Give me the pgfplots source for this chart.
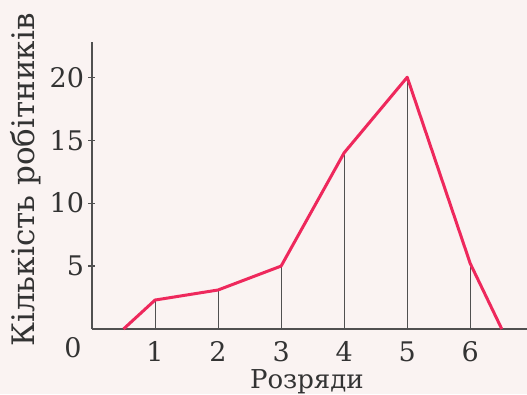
\documentclass[border=0pt]{standalone}
\usepackage{pgfplots}
\pgfplotsset{compat=1.18}
\usetikzlibrary{backgrounds}
\usepackage{fontspec}
\setmainfont{DejaVu Serif}
\definecolor{polyred}{RGB}{238,40,92}
\definecolor{axisgray}{RGB}{80,80,80}
\definecolor{paper}{RGB}{250,243,242}
\newcommand{\ticktxt}{\fontsize{27}{30}\selectfont}

\begin{document}
\begin{tikzpicture}
\begin{axis}[
  scale only axis,
  width=435pt, height=287pt,
  xmin=0, xmax=6.9,
  ymin=0, ymax=22.8,
  axis lines*=left,
  axis line style={axisgray, line width=1.4pt},
  xtick={1,2,3,4,5,6},
  xticklabels={1,2,3,4,5,6},
  ytick={5,10,15,20},
  yticklabels={5,10,15,20},
  x tick style={draw=none},
  y tick style={axisgray, line width=1.2pt},
  tick align=center,
  major tick length=7pt,
  tick label style={font=\ticktxt, text=black!80},
  xticklabel style={anchor=base, yshift=-29pt, inner sep=0pt},
  yticklabel style={xshift=-1pt},
  xlabel={Розряди},
  ylabel={Кількість робітників},
  xlabel style={font=\fontsize{26}{28}\selectfont, text=black!80, inner sep=0pt,
    at={(axis description cs:0.494,-0.209)}, anchor=base},
  ylabel style={font=\fontsize{31}{34}\selectfont, text=black!80,
    at={(axis description cs:-0.152,0.519)}, anchor=center},
  clip=false,
]
% vertical lines at class marks
\addplot[ycomb, axisgray, line width=0.9pt, no marks] coordinates {
  (1,2.3) (2,3.1) (3,5) (4,14) (5,20) (6,5.2)
};
% frequency polygon
\addplot[polyred, line width=3pt, no marks, line join=round] coordinates {
  (0.5,0) (1,2.3) (2,3.1) (3,5) (4,14) (5,20) (6,5.2) (6.5,0)
};
\node[font=\ticktxt, text=black!80, anchor=base] at (axis cs:-0.30,-2.3) {0};
\end{axis}
\pgfresetboundingbox
\path (current axis.south west) ++(-92pt,-65pt) rectangle ++(527pt,394pt);
\begin{scope}[on background layer]
\fill[paper] (current axis.south west) ++(-92pt,-65pt) rectangle ++(527pt,394pt);
\end{scope}
\end{tikzpicture}
\end{document}
